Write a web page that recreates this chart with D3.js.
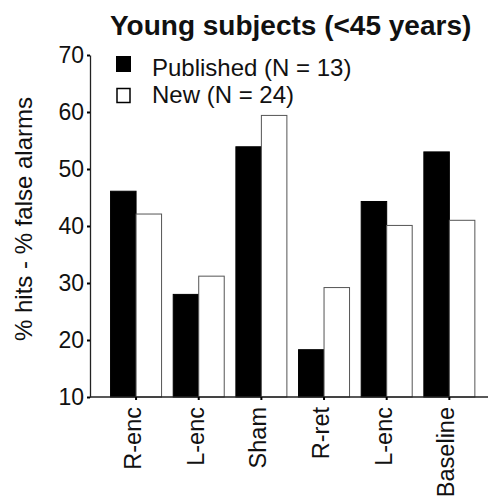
<!DOCTYPE html>
<html>
<head>
<meta charset="utf-8">
<script src="https://cdn.jsdelivr.net/npm/d3@7"></script>
<style>
  body { margin: 0; background: #fff; }
  text { font-family: "Liberation Sans", Arial, sans-serif; fill: #111; }
</style>
</head>
<body>
<script>
var categories = ["R-enc", "L-enc", "Sham", "R-ret", "L-enc ", "Baseline"];
var series = ["Published (N = 13)", "New (N = 24)"];
var published = [46.1, 28.0, 53.9, 18.3, 44.3, 53.0];
var newer = [42.1, 31.2, 59.4, 29.2, 40.1, 41.0];
var yTicks = [10, 20, 30, 40, 50, 60, 70];

var width = 492, height = 496;

var svg = d3.select("body")
    .append("svg")
    .attr("width", width)
    .attr("height", height);

var x = d3.scaleBand()
    .domain(categories)
    .range([90, 488])
    .paddingInner(0.186)
    .paddingOuter(0.269)
    .align(0.61);

var x1 = d3.scaleBand()
    .domain(series)
    .range([0, x.bandwidth()]);

var y = d3.scaleLinear()
    .domain([10, 70])
    .range([397, 55]);

var colors = ["#000", "#fff"];

// bars
var rows = categories.map(function(c, i) {
    return {cat: c, vals: [published[i], newer[i]]};
});

var g = svg.selectAll("g.grp")
    .data(rows)
    .enter().append("g")
    .attr("class", "grp")
    .attr("transform", function(d) { return "translate(" + x(d.cat) + ",0)"; });

g.selectAll("rect")
    .data(function(d) { return d.vals.map(function(v, j) { return {s: series[j], v: v, j: j}; }); })
    .enter().append("rect")
    .attr("x", function(d) { return x1(d.s); })
    .attr("width", x1.bandwidth())
    .attr("y", function(d) { return y(d.v); })
    .attr("height", function(d) { return y(10) - y(d.v); })
    .attr("fill", function(d) { return colors[d.j]; })
    .attr("stroke", function(d) { return d.j == 0 ? "#000" : "#555"; })
    .attr("stroke-width", 1);

// y axis
var yAxis = svg.append("g")
    .attr("transform", "translate(90,0)")
    .call(d3.axisLeft(y).tickValues(yTicks).tickSizeInner(3).tickSizeOuter(0).tickPadding(3));
yAxis.selectAll("text").style("font-size", "23px");
yAxis.select(".domain").attr("stroke", "#222").attr("stroke-width", 1.3);
yAxis.selectAll(".tick line").attr("stroke-width", 2);

// x axis
var xAxis = svg.append("g")
    .attr("transform", "translate(0,397)");
xAxis.append("line")
    .attr("x1", 90).attr("x2", 488)
    .attr("stroke", "#222").attr("stroke-width", 1.3);
xAxis.selectAll("line.tk")
    .data(categories)
    .enter().append("line")
    .attr("class", "tk")
    .attr("x1", function(d) { return x(d) + x.bandwidth() / 2; })
    .attr("x2", function(d) { return x(d) + x.bandwidth() / 2; })
    .attr("y1", 0).attr("y2", 3)
    .attr("stroke", "#000").attr("stroke-width", 2);
xAxis.selectAll("text")
    .data(categories)
    .enter().append("text")
    .attr("transform", function(d) {
        return "translate(" + (x(d) + x.bandwidth() / 2 + 5) + ",10) rotate(-90)";
    })
    .attr("text-anchor", "end")
    .style("font-size", "23.5px")
    .text(function(d) { return d.trim(); });

// y label
svg.append("text")
    .attr("transform", "translate(32,219) rotate(-90)")
    .attr("text-anchor", "middle")
    .style("font-size", "24px")
    .text("% hits - % false alarms");

// title
svg.append("text")
    .attr("x", 110)
    .attr("y", 35)
    .style("font-size", "28px")
    .style("font-weight", "bold")
    .text("Young subjects (<45 years)");

// legend
var leg = svg.selectAll("g.leg")
    .data(series)
    .enter().append("g")
    .attr("class", "leg")
    .attr("transform", function(d, i) { return "translate(116," + (56 + i * 32) + ")"; });
leg.append("rect")
    .attr("x", function(d, i) { return i == 0 ? 0 : 1; })
    .attr("y", function(d, i) { return i == 0 ? 0 : 0.5; })
    .attr("width", function(d, i) { return i == 0 ? 15 : 13; })
    .attr("height", function(d, i) { return i == 0 ? 16 : 14; })
    .attr("fill", function(d, i) { return colors[i]; })
    .attr("stroke", "#000")
    .attr("stroke-width", function(d, i) { return i == 0 ? 0 : 1.5; });
leg.append("text")
    .attr("x", 36)
    .attr("y", function(d, i) { return i == 0 ? 20 : 15; })
    .style("font-size", "24px")
    .text(function(d) { return d; });
</script>
</body>
</html>
